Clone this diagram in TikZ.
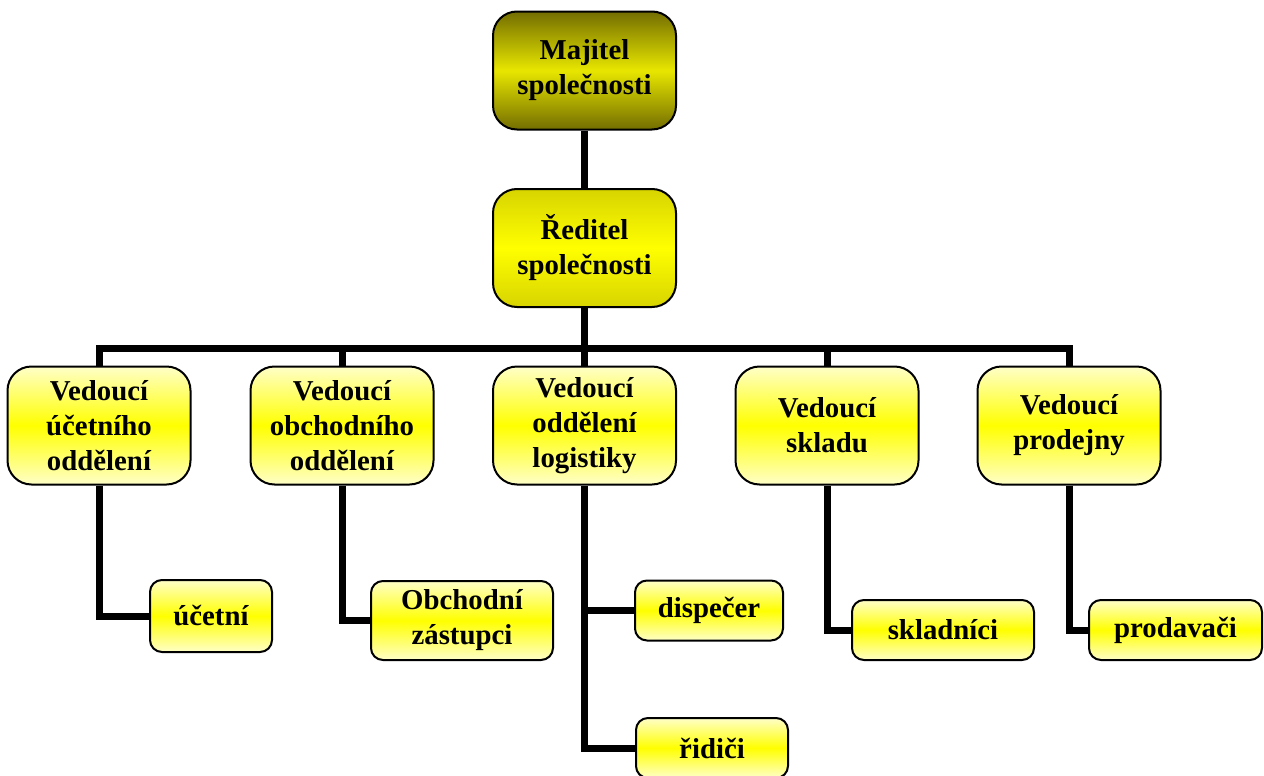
\documentclass[tikz,border=0pt]{standalone}
\usepackage{fontspec}
\setmainfont{Liberation Serif}
\usetikzlibrary{backgrounds}
\definecolor{paleyellow}{RGB}{255,255,200}
\definecolor{brightyellow}{RGB}{255,255,0}
\definecolor{olivedark}{RGB}{115,110,0}
\definecolor{olivemid}{RGB}{232,230,0}
\definecolor{dirtop}{RGB}{215,212,0}
\tikzset{
  x=0.5pt, y=-0.5pt,
  box/.style={draw=black, line width=1pt, rounded corners=12pt,
    shading=axis, top color=paleyellow, bottom color=paleyellow,
    middle color=brightyellow, align=center, inner sep=0pt,
    font=\fontsize{14.4}{17.5}\selectfont\bfseries},
  bigbox/.style={box, minimum width=91.5pt, minimum height=59pt},
  smallbox/.style={box, rounded corners=6pt, minimum height=30pt},
  ownerbox/.style={bigbox, top color=olivedark, bottom color=olivedark, middle color=olivemid},
  dirbox/.style={bigbox, top color=dirtop, bottom color=dirtop, middle color=brightyellow},
  link/.style={line width=3.5pt, line join=miter}
}
\begin{document}
\begin{tikzpicture}
\useasboundingbox (0,0) rectangle (1264,776);

% junction of the department bar
\coordinate (bar) at (584.5,348);

% top level
\node[ownerbox] (own) at (584.5,70.5) {Majitel\\společnosti};
\node[dirbox] (dir) at (584.5,248) {Ředitel\\společnosti};

% heads of departments
\node[bigbox] (h1) at (99,425.5) {Vedoucí\\účetního\\oddělení};
\node[bigbox] (h2) at (342,425.5) {Vedoucí\\obchodního\\oddělení};
\node[bigbox] (h3) at (584.5,425.5) {Vedoucí\\oddělení\\logistiky};
\node[bigbox] (h4) at (827,425.5) {Vedoucí\\skladu};
\node[bigbox] (h5) at (1069,425.5) {Vedoucí\\prodejny};

% staff
\node[smallbox, minimum width=61pt, minimum height=36pt] (s1) at (211,616) {účetní};
\node[smallbox, minimum width=91pt, minimum height=39.5pt] (s2) at (462,620.5) {Obchodní\\zástupci};
\node[smallbox, minimum width=74pt] (s3a) at (709,610.5) {dispečer};
\node[smallbox, minimum width=76pt] (s3b) at (712,748) {řidiči};
\node[smallbox, minimum width=91pt] (s4) at (943,630) {skladníci};
\node[smallbox, minimum width=86.5pt] (s5) at (1175.5,630) {prodavači};

% connectors, drawn behind the boxes
\begin{scope}[on background layer]
\draw[link] (own.south) -- (dir.north);
\draw[link] (dir.south) -- (bar);
\draw[link] (h1.north) |- (bar) -| (h5.north);
\draw[link] (h2.north) -- (h2.north |- bar);
\draw[link] (h3.north) -- (bar);
\draw[link] (h4.north) -- (h4.north |- bar);

\draw[link] (h1.south) |- (s1.west);
\draw[link] (h2.south) |- (s2.west);
\draw[link] (h3.south) |- (s3a.west);
\draw[link] (h3.south) |- (s3b.west);
\draw[link] (h4.south) |- (s4.west);
\draw[link] (h5.south) |- (s5.west);
\end{scope}
\end{tikzpicture}
\end{document}
